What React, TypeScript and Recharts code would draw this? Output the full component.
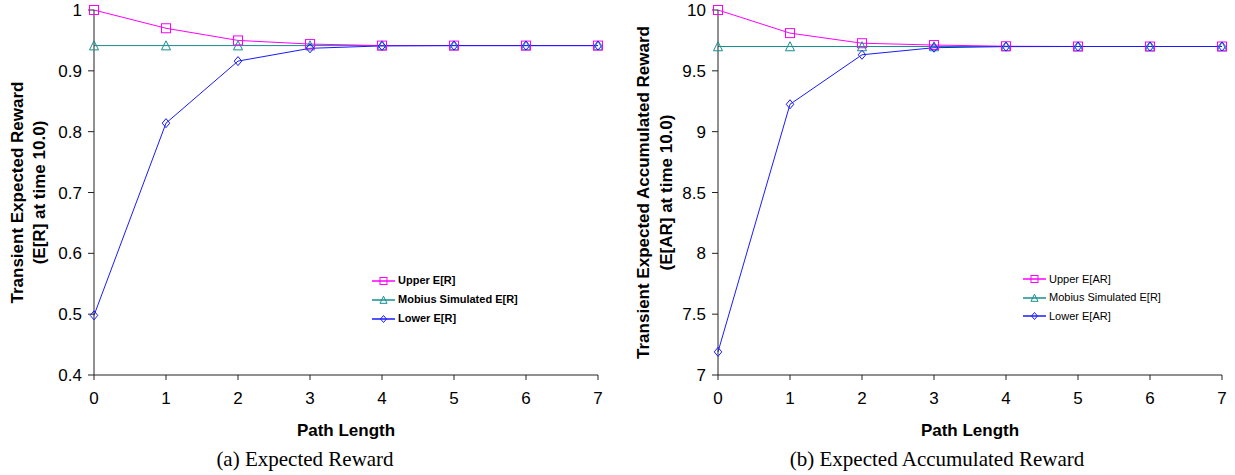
import React from 'react';
import { LineChart, Line, XAxis, YAxis, Legend, Label } from 'recharts';

// ---------- data ----------
const pathLength = [0, 1, 2, 3, 4, 5, 6, 7];

const upperER = [1.0, 0.97, 0.95, 0.944, 0.9415, 0.9415, 0.9415, 0.9415];
const mobiusER = [0.9415, 0.9415, 0.9415, 0.9415, 0.9415, 0.9415, 0.9415, 0.9415];
const lowerER = [0.498, 0.814, 0.916, 0.937, 0.941, 0.9415, 0.9415, 0.9415];

const upperEAR = [10.0, 9.81, 9.727, 9.712, 9.702, 9.7, 9.7, 9.7];
const mobiusEAR = [9.7, 9.7, 9.7, 9.7, 9.7, 9.7, 9.7, 9.7];
const lowerEAR = [7.19, 9.225, 9.632, 9.69, 9.699, 9.7, 9.7, 9.7];

const xTicks = [0, 1, 2, 3, 4, 5, 6, 7];
const yTicksER = [0.4, 0.5, 0.6, 0.7, 0.8, 0.9, 1];
const yTicksEAR = [7, 7.5, 8, 8.5, 9, 9.5, 10];

const legendER = ['Upper E[R]', 'Mobius Simulated E[R]', 'Lower E[R]'];
const legendEAR = ['Upper E[AR]', 'Mobius Simulated E[R]', 'Lower E[AR]'];

const dataER = pathLength.map((p, i) => ({ x: p, upper: upperER[i], mobius: mobiusER[i], lower: lowerER[i] }));
const dataEAR = pathLength.map((p, i) => ({ x: p, upper: upperEAR[i], mobius: mobiusEAR[i], lower: lowerEAR[i] }));

// ---------- styles ----------
const SANS = 'Liberation Sans, Arial, sans-serif';
const SERIF = 'Liberation Serif, Times New Roman, serif';
const C_UPPER = '#ff00ff';
const C_MOBIUS = '#168f8f';
const C_LOWER = '#1a1aff';
const AXIS = '#222';

type Shape = 'square' | 'triangle' | 'diamond';

function markerEl(shape: Shape, cx: number, cy: number, color: string, s: number, key?: string) {
  if (shape === 'square') {
    return <rect key={key} x={cx - s / 2} y={cy - s / 2} width={s} height={s} fill="none" stroke={color} strokeWidth={1} />;
  }
  if (shape === 'triangle') {
    const h = s * 0.95;
    return (
      <polygon
        key={key}
        points={`${cx},${cy - h / 2 - 0.5} ${cx - s / 2},${cy + h / 2} ${cx + s / 2},${cy + h / 2}`}
        fill="none"
        stroke={color}
        strokeWidth={1}
      />
    );
  }
  return (
    <polygon
      key={key}
      points={`${cx},${cy - s / 2} ${cx + s * 0.42},${cy} ${cx},${cy + s / 2} ${cx - s * 0.42},${cy}`}
      fill="none"
      stroke={color}
      strokeWidth={1}
    />
  );
}

const makeDot = (shape: Shape, color: string) => (props: any) => {
  const { cx, cy, index } = props;
  if (cx == null || cy == null) return <g key={`e-${shape}-${index}`} />;
  return markerEl(shape, cx, cy, color, 9, `d-${shape}-${index}`);
};

const shapeOf: Record<string, Shape> = { upper: 'square', mobius: 'triangle', lower: 'diamond' };
const order = ['upper', 'mobius', 'lower'];

const makeLegend = (bold: boolean, rowH: number) => (props: any) => {
  const payload = (props.payload || []).slice().sort(
    (a: any, b: any) => order.indexOf(a.dataKey) - order.indexOf(b.dataKey)
  );
  return (
    <div style={{ fontFamily: SANS, fontSize: 11, fontWeight: bold ? 700 : 400, color: '#000', lineHeight: 1 }}>
      {payload.map((e: any) => (
        <div key={e.dataKey} style={{ display: 'flex', alignItems: 'center', height: rowH, whiteSpace: 'nowrap' }}>
          <svg width={24} height={12} style={{ display: 'block' }}>
            <line x1={0} y1={6} x2={23} y2={6} stroke={e.color} strokeWidth={1.5} />
            {markerEl(shapeOf[e.dataKey], 11.5, 6, e.color, 7)}
          </svg>
          <span style={{ marginLeft: 2 }}>{e.value}</span>
        </div>
      ))}
    </div>
  );
};

const yTitle = (lines: string[], xs: number[]) => (props: any) => {
  const vb = props.viewBox || { y: 10, height: 365 };
  const cy = vb.y + vb.height / 2;
  return (
    <g>
      {lines.map((t, i) => (
        <text
          key={i}
          x={xs[i]}
          y={cy}
          transform={`rotate(-90 ${xs[i]} ${cy})`}
          textAnchor="middle"
          dominantBaseline="central"
          fontFamily={SANS}
          fontSize={17}
          fontWeight={700}
          fill="#000"
        >
          {t}
        </text>
      ))}
    </g>
  );
};

const xTitle = (caption: string, capX: number) => (props: any) => {
  const vb = props.viewBox || { x: 94, width: 504 };
  const cx = vb.x + vb.width / 2;
  return (
    <g>
      <text x={cx} y={430} textAnchor="middle" dominantBaseline="central" fontFamily={SANS} fontSize={17} fontWeight={700} fill="#000">
        Path Length
      </text>
      <text x={capX} y={459} textAnchor="middle" dominantBaseline="central" fontFamily={SERIF} fontSize={21} fill="#000">
        {caption}
      </text>
    </g>
  );
};

const tickStyle = { fontFamily: SANS, fontSize: 17, fill: '#000' };

function Panel(props: {
  data: any[];
  width: number;
  yWidth: number;
  right: number;
  domain: [number, number];
  yTicks: number[];
  names: string[];
  titleLines: string[];
  titleXs: number[];
  caption: string;
  capX: number;
  legendLeft: number;
  legendTop: number;
  legendRow: number;
  legendBold: boolean;
}) {
  return (
    <LineChart
      width={props.width}
      height={475}
      data={props.data}
      margin={{ top: 10, right: props.right, bottom: 0, left: 0 }}
    >
      <XAxis
        dataKey="x"
        type="number"
        domain={[0, 7]}
        ticks={xTicks}
        interval={0}
        height={100}
        stroke={AXIS}
        tickSize={5}
        tickMargin={12}
        tick={tickStyle}
        tickLine={{ stroke: AXIS }}
        axisLine={{ stroke: AXIS }}
      >
        <Label content={xTitle(props.caption, props.capX)} />
      </XAxis>
      <YAxis
        type="number"
        domain={props.domain}
        ticks={props.yTicks}
        interval={0}
        width={props.yWidth}
        stroke={AXIS}
        tickSize={6}
        tickMargin={6}
        tick={tickStyle}
        tickLine={{ stroke: AXIS }}
        axisLine={{ stroke: AXIS }}
        tickFormatter={(v: number) => String(v)}
      >
        <Label content={yTitle(props.titleLines, props.titleXs)} />
      </YAxis>
      <Legend
        layout="horizontal"
        verticalAlign="middle"
        align="center"
        content={makeLegend(props.legendBold, props.legendRow)}
        wrapperStyle={{ position: 'absolute', left: props.legendLeft, top: props.legendTop, width: 'auto', height: 'auto' }}
      />
      <Line
        dataKey="mobius"
        name={props.names[1]}
        stroke={C_MOBIUS}
        strokeWidth={1}
        isAnimationActive={false}
        dot={makeDot('triangle', C_MOBIUS)}
        activeDot={false}
      />
      <Line
        dataKey="upper"
        name={props.names[0]}
        stroke={C_UPPER}
        strokeWidth={1}
        isAnimationActive={false}
        dot={makeDot('square', C_UPPER)}
        activeDot={false}
      />
      <Line
        dataKey="lower"
        name={props.names[2]}
        stroke={C_LOWER}
        strokeWidth={1}
        isAnimationActive={false}
        dot={makeDot('diamond', C_LOWER)}
        activeDot={false}
      />
    </LineChart>
  );
}

export default function App() {
  return (
    <div style={{ position: 'absolute', left: 0, top: 0, width: 1235, height: 475, background: '#fff', overflow: 'hidden' }}>
      <div style={{ position: 'absolute', left: 0, top: 0 }}>
        <Panel
          data={dataER}
          width={620}
          yWidth={94}
          right={22}
          domain={[0.4, 1]}
          yTicks={yTicksER}
          names={legendER}
          titleLines={['Transient Expected Reward', '(E[R] at time 10.0)']}
          titleXs={[17, 39]}
          caption="(a) Expected Reward"
          capX={305}
          legendLeft={372}
          legendTop={271}
          legendRow={19}
          legendBold={true}
        />
      </div>
      <div style={{ position: 'absolute', left: 620, top: 0 }}>
        <Panel
          data={dataEAR}
          width={615}
          yWidth={98}
          right={13}
          domain={[7, 10]}
          yTicks={yTicksEAR}
          names={legendEAR}
          titleLines={['Transient Expected Accumulated Reward', '(E[AR] at time 10.0)']}
          titleXs={[23, 46]}
          caption="(b) Expected Accumulated Reward"
          capX={317}
          legendLeft={403}
          legendTop={270}
          legendRow={18.5}
          legendBold={false}
        />
      </div>
    </div>
  );
}
